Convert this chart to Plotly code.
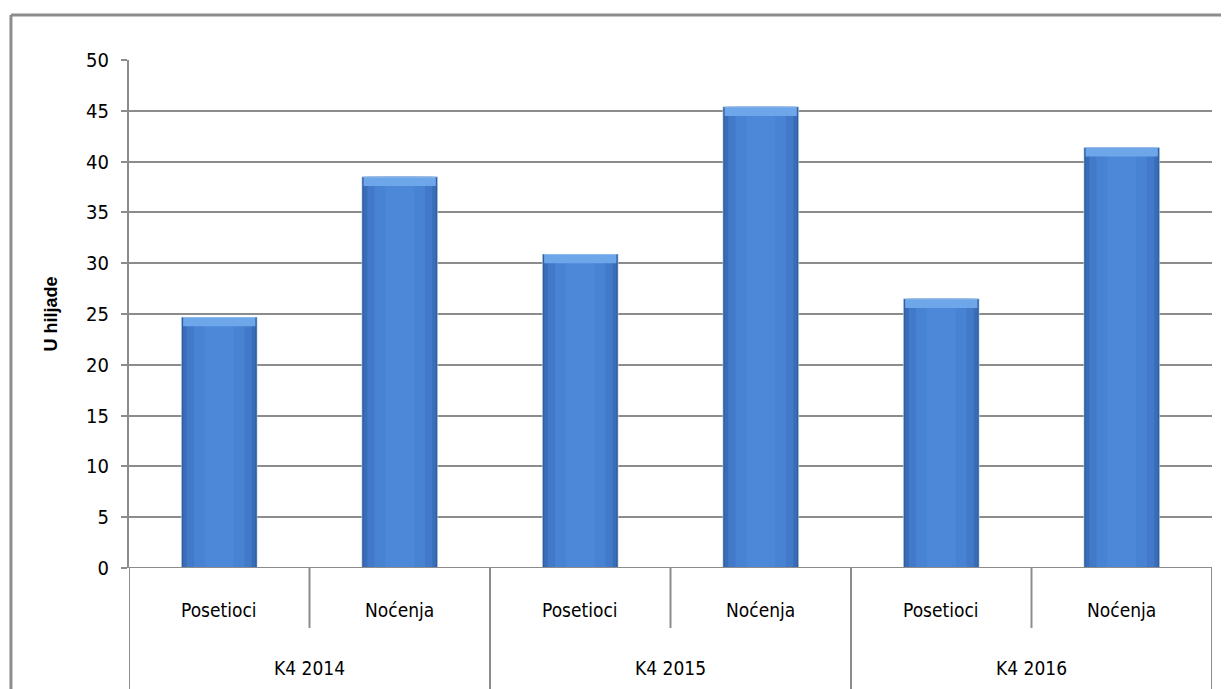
import plotly.graph_objects as go

groups = ["K4 2014", "K4 2015", "K4 2016"]
subcats = ["Posetioci", "Noćenja"]
values = [24.7, 38.5, 30.9, 45.4, 26.5, 41.4]
y_ticks = [0, 5, 10, 15, 20, 25, 30, 35, 40, 45, 50]
y_title = "U hiljade"

xs = list(range(len(values)))
FONT = "DejaVu Sans Condensed, Liberation Sans Narrow, Arial Narrow, sans-serif"
GRID = "#8c8c8c"

fig = go.Figure()
# layered bars to mimic the shaded 3D look
layers = [(0.42, "#2f5f9f"), (0.40, "#3a6db8"), (0.36, "#4279c8"),
          (0.28, "#4882d3"), (0.16, "#4d88d8")]
for w, c in layers:
    fig.add_trace(go.Bar(x=xs, y=values, width=w, marker=dict(color=c, line=dict(width=0)),
                         hoverinfo="skip", showlegend=False))
# light cap on top of each bar
cap = 0.9
fig.add_trace(go.Bar(x=xs, y=[cap] * len(values), base=[v - cap for v in values], width=0.40,
                     marker=dict(color="#6ea6ea", line=dict(width=0)), hoverinfo="skip", showlegend=False))
fig.add_trace(go.Bar(x=xs, y=values, width=0.42, marker=dict(color="rgba(0,0,0,0)"),
                     hovertemplate="%{y}<extra></extra>", showlegend=False))

fig.update_layout(
    width=1221, height=681,
    margin=dict(l=121, r=17, t=52, b=121),
    barmode="overlay",
    plot_bgcolor="white", paper_bgcolor="white",
    font=dict(family=FONT, size=19, color="black"),
    xaxis=dict(range=[-0.5, len(values) - 0.5], showticklabels=False, showgrid=False,
               zeroline=False, showline=False, ticks=""),
    yaxis=dict(range=[0, 50], tickvals=y_ticks, ticktext=[str(t) for t in y_ticks],
               showgrid=True, gridcolor=GRID, gridwidth=2, zeroline=False,
               showline=True, linecolor=GRID, linewidth=2,
               ticks="outside", ticklen=6, tickcolor=GRID, tickwidth=2,
               tickfont=dict(family=FONT, size=20), ticklabelstandoff=8,
               title=dict(text="<b>" + y_title + "</b>",
                          font=dict(family="Liberation Sans, Arial, sans-serif", size=18),
                          standoff=24)),
)

shapes = []
# bottom axis line
shapes.append(dict(type="line", xref="x", yref="y", x0=-0.5, x1=len(values) - 0.5, y0=0, y1=0,
                   line=dict(color=GRID, width=2)))
# dividers
for i in range(len(values) + 1):
    xpos = i - 0.5
    y1 = -0.25 if i % 2 == 0 else -0.118
    shapes.append(dict(type="line", xref="x", yref="paper", x0=xpos, x1=xpos, y0=0, y1=y1,
                       line=dict(color=GRID, width=2)))
# outer frame (top and left edges)
shapes.append(dict(type="line", xref="paper", yref="paper", x0=-0.109, x1=1.1, y0=1.0886, y1=1.0886,
                   line=dict(color=GRID, width=3)))
shapes.append(dict(type="line", xref="paper", yref="paper", x0=-0.109, x1=-0.109, y0=1.0886, y1=-0.3,
                   line=dict(color=GRID, width=3)))
fig.update_layout(shapes=shapes)

annotations = []
for i, v in enumerate(values):
    annotations.append(dict(x=i, y=0, xref="x", yref="paper", yshift=-42, yanchor="middle",
                            showarrow=False, text=subcats[i % 2], font=dict(family=FONT, size=19)))
for g, name in enumerate(groups):
    annotations.append(dict(x=2 * g + 0.5, y=0, xref="x", yref="paper", yshift=-100, yanchor="middle",
                            showarrow=False, text=name, font=dict(family=FONT, size=19)))
fig.update_layout(annotations=annotations)

fig.write_html("out.html")
